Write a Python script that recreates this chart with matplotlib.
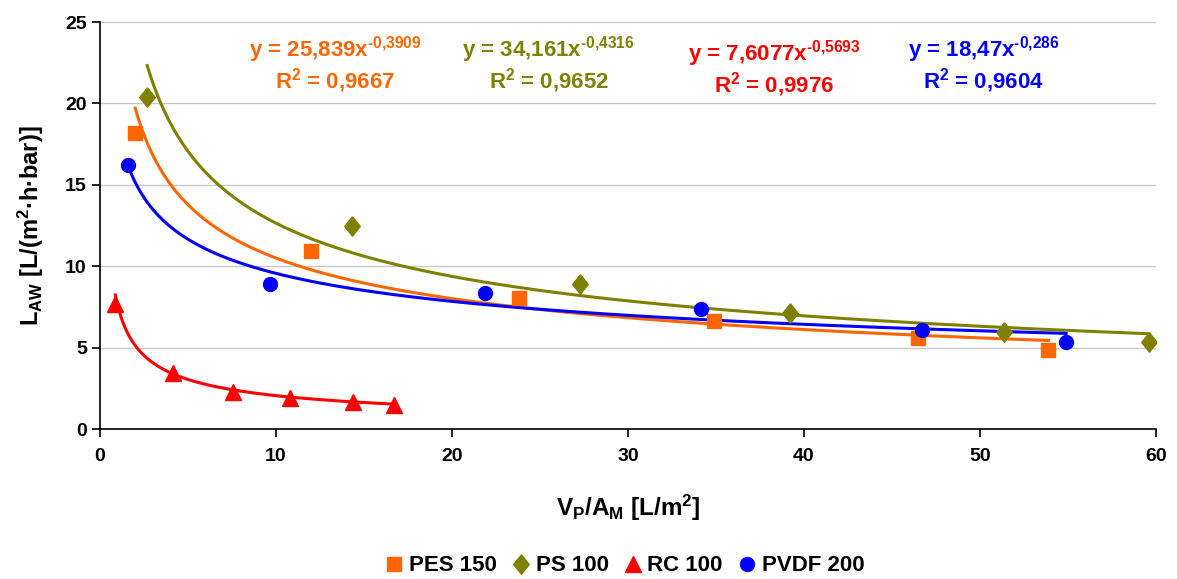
import numpy as np
import matplotlib.pyplot as plt

plt.rcParams['font.family'] = ['Liberation Sans', 'DejaVu Sans']
plt.rcParams['font.weight'] = 'bold'
plt.rcParams['axes.labelweight'] = 'bold'
plt.rcParams['mathtext.fontset'] = 'custom'
plt.rcParams['mathtext.rm'] = 'Liberation Sans:bold'
plt.rcParams['mathtext.bf'] = 'Liberation Sans:bold'
plt.rcParams['mathtext.it'] = 'Liberation Sans:bold'
plt.rcParams['mathtext.default'] = 'bf'

# data
pes_x = [2.0, 12.0, 23.8, 34.9, 46.5, 53.9]
pes_y = [18.2, 10.96, 8.07, 6.64, 5.59, 4.86]
ps_x = [2.68, 14.3, 27.3, 39.2, 51.4, 59.6]
ps_y = [20.4, 12.44, 8.89, 7.11, 5.98, 5.33]
rc_x = [0.87, 4.16, 7.56, 10.8, 14.4, 16.7]
rc_y = [7.7, 3.42, 2.3, 1.89, 1.68, 1.48]
pvdf_x = [1.59, 9.65, 21.85, 34.14, 46.7, 54.9]
pvdf_y = [16.19, 8.93, 8.34, 7.38, 6.09, 5.37]

names = ['PES 150', 'PS 100', 'RC 100', 'PVDF 200']
coef_a = [25.839, 34.161, 7.6077, 18.47]
coef_b = [-0.3909, -0.4316, -0.5693, -0.286]
a_txt = ['25,839', '34,161', '7,6077', '18,47']
b_txt = ['-0,3909', '-0,4316', '-0,5693', '-0,286']
r2_txt = ['0,9667', '0,9652', '0,9976', '0,9604']
colors = ['#FF6600', '#808000', '#FF0000', '#0000FF']
diamond = [(0, 1), (0.8, 0), (0, -1), (-0.8, 0), (0, 1)]
markers = ['s', diamond, '^', 'o']
msizes = [10, 14, 11, 10]

fig = plt.figure(figsize=(11.77, 5.79), dpi=100)
ax = fig.add_axes([0.085, 0.259, 0.897, 0.703])

xs = [pes_x, ps_x, rc_x, pvdf_x]
ys = [pes_y, ps_y, rc_y, pvdf_y]
for i in range(4):
    xx = np.linspace(min(xs[i]), max(xs[i]), 300)
    ax.plot(xx, coef_a[i] * xx ** coef_b[i], color=colors[i], lw=2.2, zorder=2)
    ax.plot(xs[i], ys[i], linestyle='none', marker=markers[i], ms=msizes[i],
            color=colors[i], label=names[i], zorder=3)

# equation labels
eq_pos = [(13.35, 23.3), (25.5, 23.3), (38.3, 23.05), (50.2, 23.3)]
r2_pos = [(13.35, 21.4), (25.5, 21.4), (38.3, 21.15), (50.2, 21.4)]
for i in range(4):
    ax.text(eq_pos[i][0], eq_pos[i][1],
            'y = ' + a_txt[i] + 'x$^{\\text{' + b_txt[i] + '}}$',
            color=colors[i], fontsize=16, ha='center', va='center', fontweight='bold')
    ax.text(r2_pos[i][0], r2_pos[i][1], 'R$^{2}$ = ' + r2_txt[i],
            color=colors[i], fontsize=16, ha='center', va='center', fontweight='bold')

ax.set_xlim(0, 60)
ax.set_ylim(0, 25)
ax.set_xticks(range(0, 61, 10))
ax.set_yticks(range(0, 26, 5))
ax.tick_params(labelsize=14, length=6, width=1.2)
ax.tick_params(axis='x', pad=8)
for lab in ax.get_xticklabels() + ax.get_yticklabels():
    lab.set_fontweight('bold')
ax.yaxis.grid(True, color='#c8c8c8', lw=1)
ax.set_axisbelow(True)
ax.spines['top'].set_visible(False)
ax.spines['right'].set_visible(False)
ax.spines['left'].set_linewidth(1.2)
ax.spines['bottom'].set_linewidth(1.2)

ax.set_xlabel('V$_{P}$/A$_{M}$ [L/m$^{2}$]', fontsize=17.5, fontweight='bold', labelpad=20)
ax.set_ylabel('L$_{AW}$ [L/(m$^{2}$·h·bar)]', fontsize=17, fontweight='bold', labelpad=14)

fig.legend(loc='lower center', bbox_to_anchor=(0.53, -0.03), ncol=4, frameon=False,
           handletextpad=0.15, columnspacing=0.6, handlelength=1.0,
           prop={'weight': 'bold', 'size': 16})

fig.savefig('out.png', dpi=100)
